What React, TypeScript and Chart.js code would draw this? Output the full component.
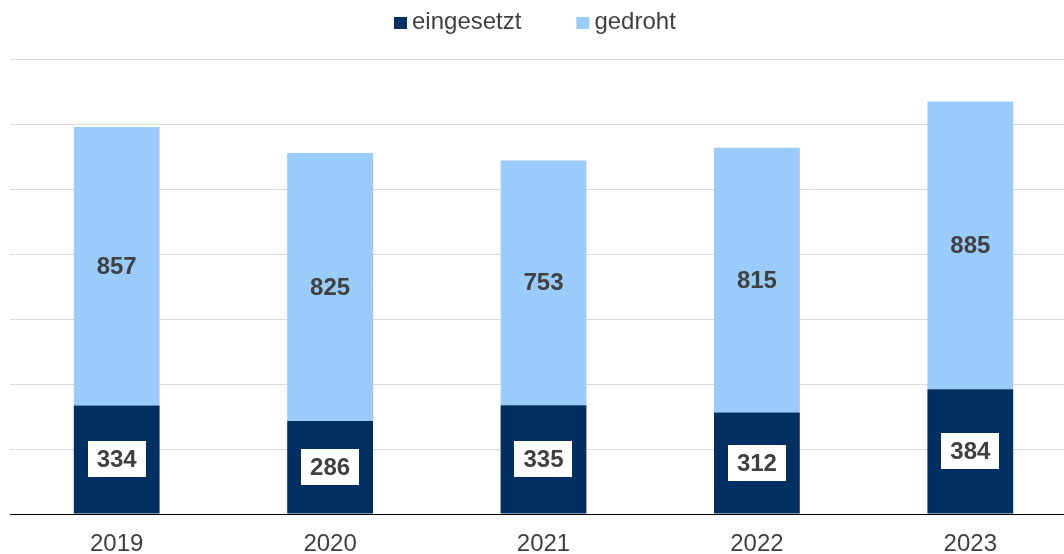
import React, { useEffect, useRef } from "react";
import { Chart, registerables } from "chart.js";

Chart.register(...registerables);

const years = ["2019", "2020", "2021", "2022", "2023"];
const eingesetzt = [334, 286, 335, 312, 384];
const gedroht = [857, 825, 753, 815, 885];
const seriesNames = ["eingesetzt", "gedroht"];
const seriesColors = ["#002F62", "#99CBFB"];
const yMax = 1400;
const yStep = 200;

const FONT = '"Liberation Sans", Arial, sans-serif';
const TEXT = "#404040";

const valueLabels = {
  id: "valueLabels",
  afterDatasetsDraw(chart: any) {
    const ctx = chart.ctx;
    ctx.save();
    ctx.font = `bold 24px ${FONT}`;
    ctx.textAlign = "center";
    ctx.textBaseline = "middle";
    chart.data.datasets.forEach((ds: any, di: number) => {
      const meta = chart.getDatasetMeta(di);
      meta.data.forEach((el: any, i: number) => {
        const { x, y, base } = el.getProps(["x", "y", "base"], true);
        const cy = (y + base) / 2;
        const text = String(ds.data[i]);
        if (di === 0) {
          const w = ctx.measureText(text).width;
          ctx.fillStyle = "#ffffff";
          ctx.fillRect(Math.round(x - w / 2 - 9), Math.round(cy - 18), Math.round(w + 18), 36);
        }
        ctx.fillStyle = TEXT;
        ctx.fillText(text, x, cy + 1);
      });
    });
    ctx.restore();
  },
};

const customLegend = {
  id: "customLegend",
  afterDraw(chart: any) {
    const ctx = chart.ctx;
    ctx.save();
    ctx.font = `24px ${FONT}`;
    ctx.textBaseline = "alphabetic";
    ctx.textAlign = "left";
    const items = chart.data.datasets.map((ds: any) => ({
      text: ds.label,
      color: ds.backgroundColor,
      w: ctx.measureText(ds.label).width,
    }));
    const box = 13;
    const gap = 5;
    const between = 55;
    const total =
      items.reduce((s: number, it: any) => s + box + gap + it.w, 0) + between * (items.length - 1);
    let x = Math.round(534.5 - total / 2);
    items.forEach((it: any) => {
      ctx.fillStyle = it.color;
      ctx.fillRect(x, 17, box, 12);
      x += box + gap;
      ctx.fillStyle = TEXT;
      ctx.fillText(it.text, x, 29);
      x += it.w + between;
    });
    ctx.restore();
  },
};

export default function App() {
  const ref = useRef<HTMLCanvasElement | null>(null);

  useEffect(() => {
    if (!ref.current) return;
    const chart = new Chart(ref.current, {
      type: "bar",
      data: {
        labels: years,
        datasets: [
          {
            label: seriesNames[0],
            data: eingesetzt,
            backgroundColor: seriesColors[0],
            barPercentage: 0.402,
            categoryPercentage: 1,
          },
          {
            label: seriesNames[1],
            data: gedroht,
            backgroundColor: seriesColors[1],
            barPercentage: 0.402,
            categoryPercentage: 1,
          },
        ],
      },
      options: {
        responsive: false,
        animation: false,
        layout: { padding: { left: 10, right: 0, top: 59, bottom: 0 } },
        plugins: {
          legend: { display: false },
          tooltip: { enabled: false },
          title: { display: false },
        },
        scales: {
          x: {
            stacked: true,
            grid: { display: false, drawTicks: false },
            border: { display: true, color: "#000000", width: 1 },
            ticks: {
              color: TEXT,
              font: { family: FONT, size: 24 },
              padding: 16,
              maxRotation: 0,
              autoSkip: false,
            },
            afterFit(s: any) {
              s.height = 40;
            },
          },
          y: {
            stacked: true,
            min: 0,
            max: yMax,
            ticks: { display: false, stepSize: yStep },
            grid: {
              color: (c: any) => (c.tick && c.tick.value === 0 ? "#000000" : "#D9D9D9"),
              drawTicks: false,
              lineWidth: 1,
            },
            border: { display: false },
            afterFit(s: any) {
              s.width = 0;
            },
          },
        },
      },
      plugins: [valueLabels, customLegend],
    });
    return () => chart.destroy();
  }, []);

  return (
    <div
      style={{
        position: "fixed",
        left: 0,
        top: 0,
        width: 1064,
        height: 554,
        overflow: "hidden",
        background: "#ffffff",
      }}
    >
      <canvas ref={ref} width={1077} height={554} style={{ display: "block" }} />
    </div>
  );
}
